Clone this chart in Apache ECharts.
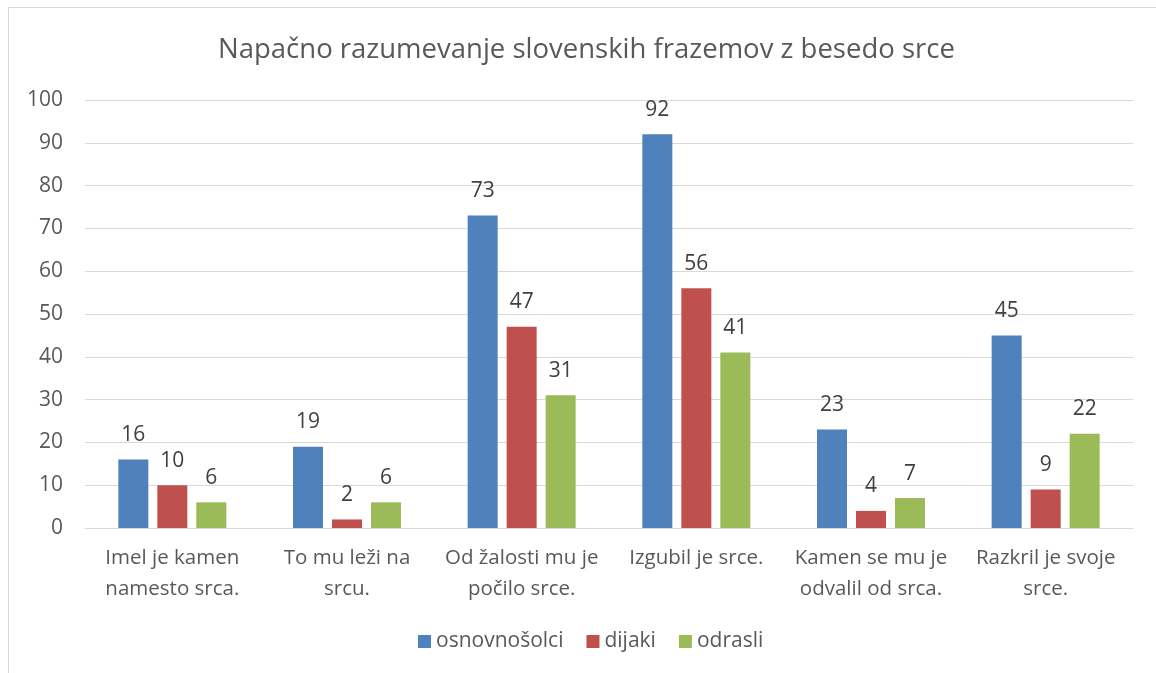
<!DOCTYPE html>
<html>
<head>
<meta charset="utf-8">
<script src="https://cdn.jsdelivr.net/npm/echarts@6/dist/echarts.min.js"></script>
<style>
html,body{margin:0;padding:0;background:#fff;}
#frame{position:absolute;left:8px;top:7px;width:1160px;height:690px;border:1px solid #d9d9d9;box-sizing:border-box;}
#chart{position:absolute;left:0;top:0;width:1156px;height:673px;}
</style>
</head>
<body>
<div id="frame"></div>
<div id="chart"></div>
<script>
const categories = ["Imel je kamen\nnamesto srca.", "To mu leži na\nsrcu.", "Od žalosti mu je\npočilo srce.", "Izgubil je srce.", "Kamen se mu je\nodvalil od srca.", "Razkril je svoje\nsrce."];
const osnovnosolci = [16, 19, 73, 92, 23, 45];
const dijaki = [10, 2, 47, 56, 4, 9];
const odrasli = [6, 6, 31, 41, 7, 22];
const seriesNames = ["osnovnošolci", "dijaki", "odrasli"];

const font = "'Open Sans', 'Liberation Sans', sans-serif";
const chart = echarts.init(document.getElementById('chart'));
const lbl = {show:true, position:'top', distance:14, color:'#404040', fontSize:21, fontFamily:font};
chart.setOption({
  animation:false,
  title:{text:'Napačno razumevanje slovenskih frazemov z besedo srce', left:213, top:31,
    textStyle:{color:'#595959', fontSize:27.5, fontWeight:'normal', fontFamily:font}},
  legend:{bottom:16, left:413, itemWidth:13, itemHeight:13, itemGap:23, icon:'rect',
    textStyle:{color:'#595959', fontSize:21, fontFamily:font}},
  grid:{left:85, right:23, top:100, bottom:145},
  xAxis:{type:'category', data:categories,
    axisLine:{lineStyle:{color:'#d9d9d9'}}, axisTick:{show:false},
    axisLabel:{color:'#595959', fontSize:20.5, fontFamily:font, lineHeight:31, margin:15, interval:0}},
  yAxis:{type:'value', min:0, max:100, interval:10,
    axisLine:{show:false}, axisTick:{show:false},
    splitLine:{lineStyle:{color:'#d9d9d9'}},
    axisLabel:{color:'#595959', fontSize:21, fontFamily:font, margin:22}},
  series:[
    {name:seriesNames[0], type:'bar', data:osnovnosolci, barWidth:30, barGap:'30%', itemStyle:{color:'#4F81BD'}, label:lbl},
    {name:seriesNames[1], type:'bar', data:dijaki, barWidth:30, barGap:'30%', itemStyle:{color:'#C0504D'}, label:lbl},
    {name:seriesNames[2], type:'bar', data:odrasli, barWidth:30, barGap:'30%', itemStyle:{color:'#9BBB59'}, label:lbl}
  ]
});
</script>
</body>
</html>
